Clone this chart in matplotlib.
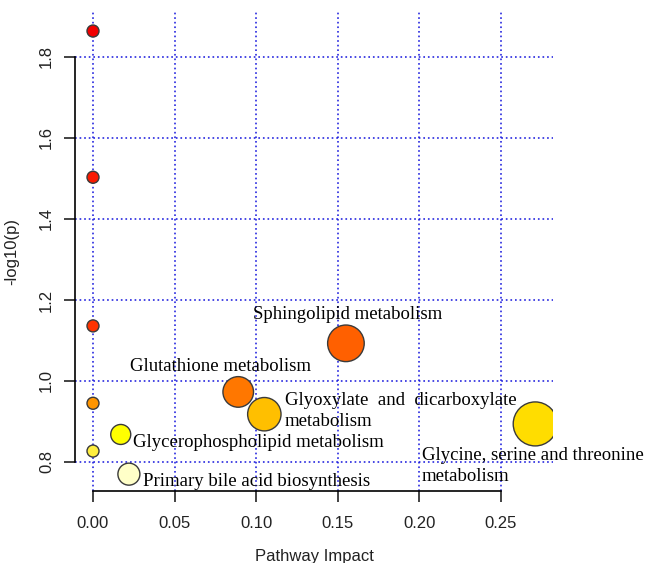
import matplotlib
matplotlib.use('Agg')
import matplotlib.pyplot as plt

# Pathway data (impact, -log10(p))
impact   = [0.0, 0.0, 0.0, 0.0, 0.0,
            0.017, 0.022, 0.089, 0.105, 0.155, 0.271]
logp     = [1.864, 1.503, 1.136, 0.945, 0.827,
            0.868, 0.770, 0.973, 0.918, 1.093, 0.894]
radius   = [6, 6, 6, 6, 6,
            10, 11, 15.3, 16.7, 18.3, 22]
colours  = ['#F20000', '#FA1A00', '#FF3300', '#FF9500', '#FFEE40',
            '#FFFF00', '#FFFFC8', '#FF7700', '#FFBF00', '#FF6000', '#FFDD00']

# Labels: text, x, y
labels   = ['Sphingolipid metabolism',
            'Glutathione metabolism',
            'Glyoxylate  and  dicarboxylate\nmetabolism',
            'Glycerophospholipid metabolism',
            'Primary bile acid biosynthesis',
            'Glycine, serine and threonine\nmetabolism']
label_x  = [0.098, 0.0227, 0.1176, 0.0245, 0.0306, 0.2016]
label_y  = [1.165, 1.037, 0.953, 0.847, 0.753, 0.817]

x_ticks  = [0.00, 0.05, 0.10, 0.15, 0.20, 0.25]
y_ticks  = [0.8, 1.0, 1.2, 1.4, 1.6, 1.8]

W, H = 646, 563
fig = plt.figure(figsize=(W / 100, H / 100), dpi=100)
ax = fig.add_axes([75 / W, (H - 491) / H, (553 - 75) / W, (491 - 12) / H])

ax.set_xlim(-0.01103, 0.2819)
ax.set_ylim(0.7284, 1.911)

#       Grid
ax.set_xticks(x_ticks)
ax.set_yticks(y_ticks)
ax.grid(True, color='#1515DD', linestyle=(0, (1.1, 1.9)), linewidth=1.1)
ax.set_axisbelow(True)

#       Points
sizes = [(2 * r * 0.72) ** 2 for r in radius]
ax.scatter(impact, logp, s=sizes, c=colours, edgecolors='#3a3a3a',
           linewidths=1.0, zorder=3)

#       Labels (one text per line)
for text, lx, ly in zip(labels, label_x, label_y):
    for i, line in enumerate(text.split('\n')):
        ax.text(lx, ly - i * 0.0535, line, family='Liberation Serif',
                fontsize=13.5, va='center', ha='left', zorder=4)

#       Axes in R style
for side in ['top', 'right']:
    ax.spines[side].set_visible(False)
ax.spines['left'].set_bounds(0.8, 1.8)
ax.spines['bottom'].set_bounds(0.0, 0.25)
ax.spines['left'].set_linewidth(1.2)
ax.spines['bottom'].set_linewidth(1.2)
ax.tick_params(direction='out', length=8, width=1.2, labelsize=12,
               colors='#222222')
ax.tick_params(axis='x', pad=10)
ax.tick_params(axis='y', pad=7)
ax.set_xticklabels(['%.2f' % v for v in x_ticks], family='Liberation Sans')
ax.set_yticklabels(['%.1f' % v for v in y_ticks], family='Liberation Sans',
                   rotation=90, va='center')

ax.set_xlabel('Pathway Impact', family='Liberation Sans', fontsize=12,
              labelpad=13, color='#222222')
ax.set_ylabel('-log10(p)', family='Liberation Sans', fontsize=12,
              labelpad=14, color='#222222')

fig.savefig('out.png', dpi=100)
